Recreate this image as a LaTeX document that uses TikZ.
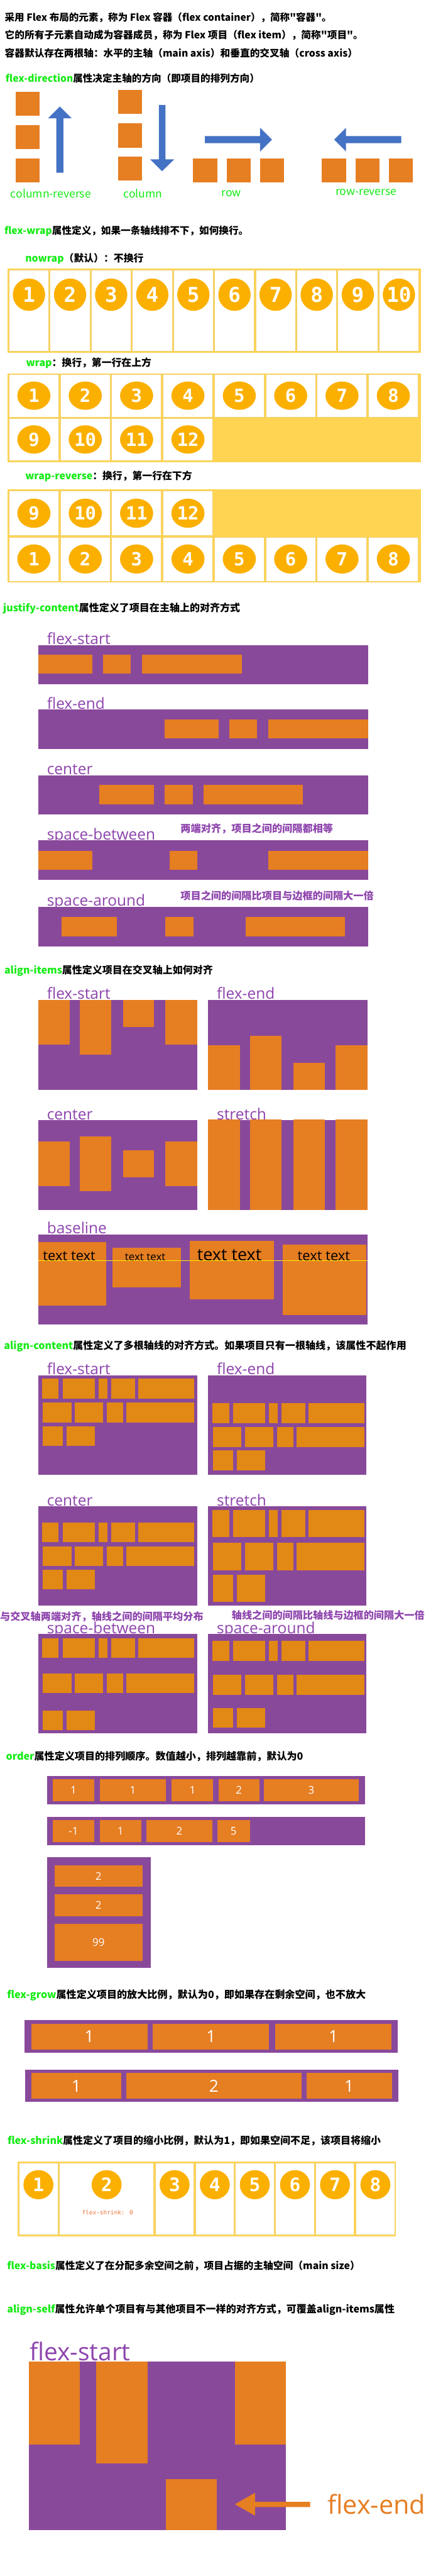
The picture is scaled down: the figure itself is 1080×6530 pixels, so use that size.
\documentclass[tikz,border=0pt]{standalone}
\usepackage{fontspec}
\usepackage{graphicx}
\setmainfont{Open Sans}
\newfontfamily\cjk{Noto Sans CJK SC}
\newfontfamily\numf{DejaVu Sans Mono}
\definecolor{orng}{RGB}{230,126,34}
\definecolor{orng2}{RGB}{226,136,20}
\definecolor{purp}{RGB}{137,73,155}
\definecolor{purpt}{RGB}{142,68,173}
\definecolor{yel}{RGB}{255,212,82}
\definecolor{circ}{RGB}{251,176,0}
\definecolor{blu}{RGB}{68,114,196}
\definecolor{grn}{RGB}{20,235,20}
\definecolor{celledge}{RGB}{240,208,110}
\definecolor{shrk}{RGB}{235,115,55}
\definecolor{baseyel}{RGB}{255,240,0}
\newcommand\fsz[1]{\fontsize{#1}{#1}\selectfont}
\newcommand\gtx[1]{\textcolor{grn}{#1}}
\newcommand\hw[2]{\resizebox{#1pt}{!}{#2}}
\newcommand\ob[4]{\fill[orng] (#1,#2) rectangle (#3,#4);}
\newcommand\oc[4]{\fill[orng2] (#1,#2) rectangle (#3,#4);}
\newcommand\pc[4]{\fill[purp] (#1,#2) rectangle (#3,#4);}
\newcommand\cellbox[9]{%
  \filldraw[cellsty] (#1,#2) rectangle (#3,#4);
  \pgfmathsetmacro\cx{(#1+#3)/2}
  \fill[circ] (\cx,#5) ellipse [x radius=#6pt, y radius=#7pt];
  \node[numtxt, font=\numf\bfseries\fsz{#8}] (c#9-#2) at (\cx,#5) {#9};
}
\newcommand\acleft[6]{%
 \oc{107}{#1}{149}{#2}\oc{160}{#1}{241}{#2}\oc{251}{#1}{273}{#2}\oc{282}{#1}{342}{#2}\oc{351}{#1}{492}{#2}
 \oc{109}{#3}{181}{#4}\oc{189}{#3}{262}{#4}\oc{271}{#3}{312}{#4}\oc{321}{#3}{492}{#4}
 \oc{109}{#5}{160}{#6}\oc{169}{#5}{241}{#6}}
\newcommand\acright[6]{%
 \oc{539}{#1}{582}{#2}\oc{592}{#1}{673}{#2}\oc{683}{#1}{705}{#2}\oc{714}{#1}{774}{#2}\oc{783}{#1}{924}{#2}
 \oc{540}{#3}{612}{#4}\oc{622}{#3}{694}{#4}\oc{703}{#3}{744}{#4}\oc{753}{#3}{924}{#4}
 \oc{540}{#5}{592}{#6}\oc{601}{#5}{673}{#6}}
\tikzset{
  head/.style={anchor=base west, inner sep=0pt, font=\cjk\bfseries\fsz{27}},
  dirlbl/.style={anchor=center, inner sep=0pt, text=grn, font=\cjk\fsz{28}},
  lbl/.style={anchor=base west, inner sep=0pt, text=purpt, font=\fsz{39}},
  note/.style={anchor=west, inner sep=0pt, text=purpt, font=\cjk\bfseries\fsz{26}},
  cellsty/.style={fill=white, draw=celledge, line width=1.5pt},
  numtxt/.style={text=white, inner sep=0pt},
  boxnum/.style={text=white, inner sep=0pt, font=\fsz{27}},
  bignum/.style={text=white, inner sep=0pt, font=\fsz{42}},
  txt/.style={anchor=base west, inner sep=0pt, text=black},
}
\begin{document}
\begin{tikzpicture}[x=1pt,y=-1pt]
\useasboundingbox (0,0) rectangle (1080,6530);
\fill[white] (0,0) rectangle (1080,6530);

% ---------- intro ----------
\node[head] (h1) at (12,54) {\hw{829}{采用 Flex 布局的元素，称为 Flex 容器（flex container），简称"容器"。}};
\node[head] (h2) at (12,98) {\hw{909}{它的所有子元素自动成为容器成员，称为 Flex 项目（flex item），简称"项目"。}};
\node[head] (h3) at (12,145) {\hw{895}{容器默认存在两根轴：水平的主轴（main axis）和垂直的交叉轴（cross axis）}};

% ---------- flex-direction ----------
\node[head] (h4) at (14,208) {\hw{644}{\gtx{flex-direction}属性决定主轴的方向（即项目的排列方向）}};
\ob{40}{232}{101}{293}\ob{40}{317}{101}{378}\ob{40}{402}{101}{462}
\fill[blu] (143,438) -- (143,300) -- (122,300) -- (152,270) -- (182,300) -- (161,300) -- (161,438) -- cycle;
\ob{299}{228}{360}{289}\ob{299}{313}{360}{374}\ob{299}{397}{360}{458}
\fill[blu] (403,266) -- (403,404) -- (381,404) -- (411,434) -- (442,404) -- (420,404) -- (420,266) -- cycle;
\ob{489}{402}{551}{462}\ob{575}{402}{636}{462}\ob{660}{402}{721}{462}
\fill[blu] (520,345) -- (660,345) -- (660,324) -- (690,354) -- (660,384) -- (660,363) -- (520,363) -- cycle;
\ob{817}{402}{878}{462}\ob{902}{402}{963}{462}\ob{987}{402}{1048}{462}
\fill[blu] (1018,345) -- (878,345) -- (878,324) -- (848,354) -- (878,384) -- (878,363) -- (1018,363) -- cycle;
\node[dirlbl] (d1) at (129,491) {column-reverse};
\node[dirlbl] (d2) at (363,491) {column};
\node[dirlbl] (d3) at (587,491) {row};
\node[dirlbl] (d4) at (929,487) {row-reverse};

% ---------- flex-wrap ----------
\node[head] (h5) at (11,594) {\hw{619}{\gtx{flex-wrap}属性定义，如果一条轴线排不下，如何换行。}};
\node[head] (h6) at (64,664) {\hw{300}{\gtx{nowrap}（默认）：不换行}};
\fill[yel] (19,681) rectangle (1068,894);
\foreach \i in {1,...,10}{
  \pgfmathsetmacro\xa{23+(\i-1)*104.3}
  \pgfmathsetmacro\xb{\xa+101}
  \cellbox{\xa}{685}{\xb}{891}{747}{41}{41}{52}{\i}
}
\node[head] (h7) at (66,929) {\hw{318}{\gtx{wrap}：换行，第一行在上方}};
\fill[yel] (19,947) rectangle (1068,1171);
\foreach \i in {1,...,8}{
  \pgfmathsetmacro\xa{23+(\i-1)*130.3}
  \pgfmathsetmacro\xb{\xa+126}
  \cellbox{\xa}{950}{\xb}{1057}{1003}{42}{36}{46}{\i}
}
\foreach \i in {9,...,12}{
  \pgfmathsetmacro\xa{23+(\i-9)*130.3}
  \pgfmathsetmacro\xb{\xa+126}
  \cellbox{\xa}{1061}{\xb}{1168}{1114}{42}{36}{46}{\i}
}
\node[head] (h8) at (64,1215) {\hw{423}{\gtx{wrap-reverse}：换行，第一行在下方}};
\fill[yel] (19,1241) rectangle (1068,1477);
\foreach \i in {9,...,12}{
  \pgfmathsetmacro\xa{23+(\i-9)*130.3}
  \pgfmathsetmacro\xb{\xa+126}
  \cellbox{\xa}{1245}{\xb}{1357}{1301}{42}{37}{46}{\i}
}
\foreach \i in {1,...,8}{
  \pgfmathsetmacro\xa{23+(\i-1)*130.3}
  \pgfmathsetmacro\xb{\xa+126}
  \cellbox{\xa}{1362}{\xb}{1474}{1417}{42}{37}{46}{\i}
}

% ---------- justify-content ----------
\node[head] (h9) at (8,1551) {\hw{601}{\gtx{justify-content}属性定义了项目在主轴上的对齐方式}};
\pc{98}{1635}{934}{1734}
\ob{98}{1660}{235}{1708}\ob{262}{1660}{332}{1708}\ob{361}{1660}{613}{1708}
\node[lbl] (j1) at (119,1634) {flex-start};
\pc{98}{1799}{934}{1898}
\ob{417}{1824}{555}{1872}\ob{582}{1824}{652}{1872}\ob{681}{1824}{934}{1872}
\node[lbl] (j2) at (119,1798) {flex-end};
\pc{98}{1965}{934}{2064}
\ob{252}{1990}{391}{2039}\ob{418}{1990}{489}{2039}\ob{516}{1990}{769}{2039}
\node[lbl] (j3) at (119,1964) {center};
\node[note] (n1) at (458,2100) {\hw{387}{两端对齐，项目之间的间隔都相等}};
\pc{98}{2130}{934}{2230}
\ob{98}{2157}{235}{2205}\ob{430}{2157}{500}{2205}\ob{681}{2157}{934}{2205}
\node[lbl] (j4) at (119,2129) {space-between};
\node[note] (n2) at (458,2270) {\hw{490}{项目之间的间隔比项目与边框的间隔大一倍}};
\pc{98}{2299}{934}{2399}
\ob{156}{2325}{296}{2373}\ob{420}{2325}{491}{2373}\ob{624}{2325}{876}{2373}
\node[lbl] (j5) at (119,2297) {space-around};

% ---------- align-items ----------
\node[head] (h10) at (11,2468) {\hw{529}{\gtx{align-items}属性定义项目在交叉轴上如何对齐}};
\pc{98}{2535}{500}{2762}
\ob{98}{2535}{177}{2648}\ob{202}{2535}{282}{2673}\ob{312}{2535}{391}{2604}\ob{420}{2535}{500}{2648}
\node[lbl] (a1) at (119,2532) {flex-start};
\pc{528}{2535}{932}{2762}
\ob{528}{2650}{609}{2762}\ob{634}{2625}{714}{2762}\ob{744}{2694}{824}{2762}\ob{852}{2650}{932}{2762}
\node[lbl] (a2) at (550,2532) {flex-end};
\pc{98}{2840}{500}{3068}
\ob{98}{2894}{177}{3007}\ob{202}{2881}{282}{3020}\ob{312}{2916}{391}{2985}\ob{420}{2894}{500}{3007}
\node[lbl] (a3) at (119,2839) {center};
\pc{528}{2840}{932}{3068}
\ob{528}{2838}{609}{3068}\ob{634}{2838}{714}{3068}\ob{744}{2838}{824}{3068}\ob{852}{2838}{932}{3068}
\node[lbl] (a4) at (550,2839) {stretch};
\pc{98}{3129}{932}{3357}
\ob{98}{3149}{269}{3309}\ob{286}{3163}{459}{3264}\ob{481}{3146}{695}{3294}\ob{717}{3155}{930}{3334}
\node[txt, font=\fsz{35}] (b1) at (109,3195) {text text};
\node[txt, font=\fsz{27}] (b2) at (317,3195) {text text};
\node[txt, font=\fsz{43}] (b3) at (500,3195) {text text};
\node[txt, font=\fsz{35}] (b4) at (755,3195) {text text};
\draw[baseyel, line width=2pt] (98,3196) -- (932,3196);
\node[lbl] (a5) at (119,3127) {baseline};

% ---------- align-content ----------
\node[head] (h11) at (10,3420) {\hw{1021}{\gtx{align-content}属性定义了多根轴线的对齐方式。如果项目只有一根轴线，该属性不起作用}};
\pc{98}{3486}{500}{3738}
\acleft{3495}{3545}{3555}{3606}{3615}{3665}
\node[lbl] (c1) at (119,3484) {flex-start};
\pc{528}{3486}{930}{3738}
\acright{3557}{3608}{3617}{3668}{3677}{3727}
\node[lbl] (c2) at (550,3484) {flex-end};
\pc{98}{3818}{500}{4070}
\acleft{3860}{3909}{3920}{3970}{3979}{4029}
\node[lbl] (c3) at (119,3817) {center};
\pc{528}{3818}{930}{4070}
\acright{3828}{3897}{3911}{3980}{3992}{4061}
\node[lbl] (c4) at (550,3817) {stretch};
\node[note] (n3) at (0,4098) {\hw{516}{与交叉轴两端对齐，轴线之间的间隔平均分布}};
\node[note] (n4) at (588,4094) {\hw{489}{轴线之间的间隔比轴线与边框的间隔大一倍}};
\pc{98}{4142}{500}{4394}
\acleft{4153}{4203}{4242}{4292}{4336}{4386}
\node[lbl] (c5) at (119,4141) {space-between};
\pc{528}{4142}{930}{4394}
\acright{4160}{4210}{4246}{4296}{4330}{4380}
\node[lbl] (c6) at (550,4141) {space-around};

% ---------- order ----------
\node[head] (h12) at (15,4462) {\hw{754}{\gtx{order}属性定义项目的排列顺序。数值越小，排列越靠前，默认为0}};
\pc{120}{4502}{926}{4574}
\ob{134}{4510}{239}{4566}\ob{253}{4510}{421}{4566}\ob{436}{4510}{541}{4566}\ob{554}{4510}{658}{4566}\ob{670}{4510}{910}{4566}
\node[boxnum] (o1) at (186.5,4538) {1};
\node[boxnum] (o2) at (337,4538) {1};
\node[boxnum] (o3) at (488.5,4538) {1};
\node[boxnum] (o4) at (606,4538) {2};
\node[boxnum] (o5) at (790,4538) {3};
\pc{120}{4606}{926}{4677}
\ob{134}{4613}{239}{4669}\ob{253}{4613}{358}{4669}\ob{371}{4613}{539}{4669}\ob{551}{4613}{634}{4669}
\node[boxnum] (o6) at (186.5,4641) {-1};
\node[boxnum] (o7) at (305.5,4641) {1};
\node[boxnum] (o8) at (455,4641) {2};
\node[boxnum] (o9) at (592.5,4641) {5};
\pc{120}{4708}{383}{4989}
\ob{138}{4728}{362}{4783}\ob{138}{4802}{362}{4857}\ob{138}{4877}{362}{4970}
\node[boxnum] (o10) at (250,4755.5) {2};
\node[boxnum] (o11) at (250,4829.5) {2};
\node[boxnum] (o12) at (250,4923.5) {99};

% ---------- flex-grow ----------
\node[head] (h13) at (18,5065) {\hw{910}{\gtx{flex-grow}属性定义项目的放大比例，默认为0，即如果存在剩余空间，也不放大}};
\pc{62}{5121}{1009}{5204}
\ob{79}{5130}{374}{5195}\ob{388}{5130}{683}{5195}\ob{699}{5130}{993}{5195}
\node[bignum] (g1) at (226.5,5162.5) {1};
\node[bignum] (g2) at (535.5,5162.5) {1};
\node[bignum] (g3) at (846,5162.5) {1};
\pc{63}{5246}{1011}{5328}
\ob{80}{5255}{307}{5320}\ob{320}{5255}{765}{5320}\ob{778}{5255}{994}{5320}
\node[bignum] (g4) at (193.5,5287.5) {1};
\node[bignum] (g5) at (542.5,5287.5) {2};
\node[bignum] (g6) at (886,5287.5) {1};

% ---------- flex-shrink ----------
\node[head] (h14) at (19,5435) {\hw{947}{\gtx{flex-shrink}属性定义了项目的缩小比例，默认为1，即如果空间不足，该项目将缩小}};
\fill[yel] (45,5480) rectangle (1005,5669);
\cellbox{48}{5483}{147}{5665}{5538}{38}{37}{47}{1}
\cellbox{151}{5483}{390}{5665}{5538}{38}{37}{47}{2}
\cellbox{394}{5483}{492}{5665}{5538}{38}{37}{47}{3}
\cellbox{496}{5483}{594}{5665}{5538}{38}{37}{47}{4}
\cellbox{597}{5483}{696}{5665}{5538}{38}{37}{47}{5}
\cellbox{699}{5483}{798}{5665}{5538}{38}{37}{47}{6}
\cellbox{801}{5483}{899}{5665}{5538}{38}{37}{47}{7}
\cellbox{903}{5483}{1002}{5665}{5538}{38}{37}{47}{8}
\node[inner sep=0pt, text=shrk, font=\numf\fsz{15}] (fs0) at (273,5609) {flex-shrink: 0};

% ---------- flex-basis / align-self ----------
\node[head] (h15) at (18,5752) {\hw{895}{\gtx{flex-basis}属性定义了在分配多余空间之前，项目占据的主轴空间（main size）}};
\node[head] (h16) at (18,5863) {\hw{983}{\gtx{align-self}属性允许单个项目有与其他项目不一样的对齐方式，可覆盖align-items属性}};
\pc{73}{5986}{725}{6413}
\ob{73}{5986}{202}{6197}\ob{244}{5986}{374}{6245}\ob{596}{5986}{725}{6197}\ob{421}{6284}{550}{6413}
\node[lbl, font=\fsz{62}] (s1) at (75,5984) {flex-start};
\fill[orng] (787,6342) -- (647,6342) -- (647,6319) -- (596,6348) -- (647,6377) -- (647,6355) -- (787,6355) -- cycle;
\node[anchor=base west, inner sep=0pt, text=orng, font=\fsz{66}] (s2) at (831,6373) {flex-end};
\end{tikzpicture}
\end{document}
